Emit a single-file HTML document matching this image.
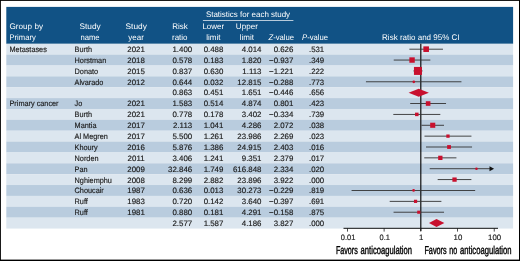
<!DOCTYPE html>
<html><head><meta charset="utf-8"><title>Forest plot</title>
<style>
html,body{margin:0;padding:0;background:#fff;}
svg{display:block;}
text{font-family:"Liberation Sans",sans-serif;text-rendering:geometricPrecision;}
.b{font-size:7.8px;fill:#1a1a1a;stroke:#1a1a1a;stroke-width:0.15px;}
.h{font-size:8.1px;fill:#fff;}
.a{font-size:7.8px;fill:#1a1a1a;stroke:#1a1a1a;stroke-width:0.15px;}
.f{font-size:11.5px;fill:#000;stroke:#000;stroke-width:0.4px;}
</style></head><body>
<svg width="520" height="261" viewBox="0 0 520 261">
<rect x="0" y="0" width="520" height="261" fill="#fff"/>
<rect x="0" y="0" width="520" height="0.9" fill="#000"/>
<rect x="0" y="0" width="0.9" height="261" fill="#000"/>
<rect x="519" y="0" width="1" height="261" fill="#000"/>
<rect x="0" y="259.6" width="520" height="1.4" fill="#000"/>
<rect x="6.3" y="6.9" width="506.8" height="36.95" fill="#115285"/>

<rect x="6.3" y="43.75" width="506.8" height="10.92" fill="#dce6ef"/>
<rect x="6.3" y="54.62" width="506.8" height="10.92" fill="#b9ccde"/>
<rect x="6.3" y="65.49" width="506.8" height="10.92" fill="#dce6ef"/>
<rect x="6.3" y="76.35" width="506.8" height="10.92" fill="#b9ccde"/>
<rect x="6.3" y="87.22" width="506.8" height="10.92" fill="#dce6ef"/>
<rect x="6.3" y="98.09" width="506.8" height="10.92" fill="#b9ccde"/>
<rect x="6.3" y="108.96" width="506.8" height="10.92" fill="#dce6ef"/>
<rect x="6.3" y="119.83" width="506.8" height="10.92" fill="#b9ccde"/>
<rect x="6.3" y="130.69" width="506.8" height="10.92" fill="#dce6ef"/>
<rect x="6.3" y="141.56" width="506.8" height="10.92" fill="#b9ccde"/>
<rect x="6.3" y="152.43" width="506.8" height="10.92" fill="#dce6ef"/>
<rect x="6.3" y="163.30" width="506.8" height="10.92" fill="#b9ccde"/>
<rect x="6.3" y="174.17" width="506.8" height="10.92" fill="#dce6ef"/>
<rect x="6.3" y="185.03" width="506.8" height="10.92" fill="#b9ccde"/>
<rect x="6.3" y="195.90" width="506.8" height="10.92" fill="#dce6ef"/>
<rect x="6.3" y="206.77" width="506.8" height="10.92" fill="#b9ccde"/>
<rect x="6.3" y="217.64" width="506.8" height="10.92" fill="#dce6ef"/>
<text class="h" x="9.5" y="29.4" text-anchor="start" textLength="33.48" lengthAdjust="spacingAndGlyphs">Group by</text>
<text class="h" x="9.5" y="39.7" text-anchor="start" textLength="26.23" lengthAdjust="spacingAndGlyphs">Primary</text>
<text class="h" x="90.1" y="29.4" text-anchor="middle" textLength="21.23" lengthAdjust="spacingAndGlyphs">Study</text>
<text class="h" x="90" y="39.7" text-anchor="middle" textLength="19.25" lengthAdjust="spacingAndGlyphs">name</text>
<text class="h" x="136.2" y="29.4" text-anchor="middle" textLength="21.23" lengthAdjust="spacingAndGlyphs">Study</text>
<text class="h" x="136.1" y="39.7" text-anchor="middle" textLength="15.52" lengthAdjust="spacingAndGlyphs">year</text>
<text class="h" x="180" y="29.4" text-anchor="middle" textLength="15.51" lengthAdjust="spacingAndGlyphs">Risk</text>
<text class="h" x="179.8" y="39.7" text-anchor="middle" textLength="15.52" lengthAdjust="spacingAndGlyphs">ratio</text>
<text class="h" x="213.3" y="29.4" text-anchor="middle" textLength="21.73" lengthAdjust="spacingAndGlyphs">Lower</text>
<text class="h" x="213.3" y="39.7" text-anchor="middle" textLength="14.18" lengthAdjust="spacingAndGlyphs">limit</text>
<text class="h" x="246.9" y="29.4" text-anchor="middle" textLength="22.06" lengthAdjust="spacingAndGlyphs">Upper</text>
<text class="h" x="246.9" y="39.7" text-anchor="middle" textLength="14.18" lengthAdjust="spacingAndGlyphs">limit</text>
<text class="h" x="248" y="16.6" text-anchor="middle" textLength="84.25" lengthAdjust="spacingAndGlyphs">Statistics for each study</text>
<rect x="202.9" y="20.0" width="90.5" height="0.7" fill="#fff"/>
<text class="h" x="281.3" y="39.7" text-anchor="middle" textLength="25.66" lengthAdjust="spacingAndGlyphs"><tspan font-style="italic">Z</tspan>-value</text>
<text class="h" x="315.1" y="39.7" text-anchor="middle" textLength="26.09" lengthAdjust="spacingAndGlyphs"><tspan font-style="italic">P</tspan>-value</text>
<text class="h" x="420.85" y="39.6" text-anchor="middle" textLength="77.55" lengthAdjust="spacingAndGlyphs">Risk ratio and 95% CI</text>
<text class="b" x="9.5" y="51.93" text-anchor="start" textLength="37.29" lengthAdjust="spacingAndGlyphs">Metastases</text>
<text class="b" x="74.6" y="51.93" text-anchor="start" textLength="17.43" lengthAdjust="spacingAndGlyphs">Burth</text>
<text class="b" x="136.1" y="51.93" text-anchor="middle" textLength="17.56" lengthAdjust="spacingAndGlyphs">2021</text>
<text class="b" x="192.2" y="51.93" text-anchor="end" textLength="19.75" lengthAdjust="spacingAndGlyphs">1.400</text>
<text class="b" x="223.4" y="51.93" text-anchor="end" textLength="19.75" lengthAdjust="spacingAndGlyphs">0.488</text>
<text class="b" x="261.5" y="51.93" text-anchor="end" textLength="19.75" lengthAdjust="spacingAndGlyphs">4.014</text>
<text class="b" x="293.4" y="51.93" text-anchor="end" textLength="19.75" lengthAdjust="spacingAndGlyphs">0.626</text>
<text class="b" x="309.0" y="51.93" text-anchor="start">.531</text>
<text class="b" x="74.6" y="62.82" text-anchor="start" textLength="31.61" lengthAdjust="spacingAndGlyphs">Horstman</text>
<text class="b" x="136.1" y="62.82" text-anchor="middle" textLength="17.56" lengthAdjust="spacingAndGlyphs">2018</text>
<text class="b" x="192.2" y="62.82" text-anchor="end" textLength="19.75" lengthAdjust="spacingAndGlyphs">0.578</text>
<text class="b" x="223.4" y="62.82" text-anchor="end" textLength="19.75" lengthAdjust="spacingAndGlyphs">0.183</text>
<text class="b" x="261.5" y="62.82" text-anchor="end" textLength="19.75" lengthAdjust="spacingAndGlyphs">1.820</text>
<text class="b" x="293.4" y="62.82" text-anchor="end" textLength="24.36" lengthAdjust="spacingAndGlyphs">−0.937</text>
<text class="b" x="309.0" y="62.82" text-anchor="start">.349</text>
<text class="b" x="74.6" y="73.71" text-anchor="start" textLength="23.52" lengthAdjust="spacingAndGlyphs">Donato</text>
<text class="b" x="136.1" y="73.71" text-anchor="middle" textLength="17.56" lengthAdjust="spacingAndGlyphs">2015</text>
<text class="b" x="192.2" y="73.71" text-anchor="end" textLength="19.75" lengthAdjust="spacingAndGlyphs">0.837</text>
<text class="b" x="223.4" y="73.71" text-anchor="end" textLength="19.75" lengthAdjust="spacingAndGlyphs">0.630</text>
<text class="b" x="261.5" y="73.71" text-anchor="end" textLength="19.17" lengthAdjust="spacingAndGlyphs">1.113</text>
<text class="b" x="293.4" y="73.71" text-anchor="end" textLength="24.36" lengthAdjust="spacingAndGlyphs">−1.221</text>
<text class="b" x="309.0" y="73.71" text-anchor="start">.222</text>
<text class="b" x="74.6" y="84.60" text-anchor="start" textLength="28.78" lengthAdjust="spacingAndGlyphs">Alvarado</text>
<text class="b" x="136.1" y="84.60" text-anchor="middle" textLength="17.56" lengthAdjust="spacingAndGlyphs">2012</text>
<text class="b" x="192.2" y="84.60" text-anchor="end" textLength="19.75" lengthAdjust="spacingAndGlyphs">0.644</text>
<text class="b" x="223.4" y="84.60" text-anchor="end" textLength="19.75" lengthAdjust="spacingAndGlyphs">0.032</text>
<text class="b" x="261.5" y="84.60" text-anchor="end" textLength="24.14" lengthAdjust="spacingAndGlyphs">12.815</text>
<text class="b" x="293.4" y="84.60" text-anchor="end" textLength="24.36" lengthAdjust="spacingAndGlyphs">−0.288</text>
<text class="b" x="309.0" y="84.60" text-anchor="start">.773</text>
<text class="b" x="192.2" y="95.49" text-anchor="end" textLength="19.75" lengthAdjust="spacingAndGlyphs">0.863</text>
<text class="b" x="223.4" y="95.49" text-anchor="end" textLength="19.75" lengthAdjust="spacingAndGlyphs">0.451</text>
<text class="b" x="261.5" y="95.49" text-anchor="end" textLength="19.75" lengthAdjust="spacingAndGlyphs">1.651</text>
<text class="b" x="293.4" y="95.49" text-anchor="end" textLength="24.36" lengthAdjust="spacingAndGlyphs">−0.446</text>
<text class="b" x="309.0" y="95.49" text-anchor="start">.656</text>
<text class="b" x="9.5" y="106.37" text-anchor="start" textLength="49.04" lengthAdjust="spacingAndGlyphs">Primary cancer</text>
<text class="b" x="74.6" y="106.37" text-anchor="start" textLength="7.70" lengthAdjust="spacingAndGlyphs">Jo</text>
<text class="b" x="136.1" y="106.37" text-anchor="middle" textLength="17.56" lengthAdjust="spacingAndGlyphs">2021</text>
<text class="b" x="192.2" y="106.37" text-anchor="end" textLength="19.75" lengthAdjust="spacingAndGlyphs">1.583</text>
<text class="b" x="223.4" y="106.37" text-anchor="end" textLength="19.75" lengthAdjust="spacingAndGlyphs">0.514</text>
<text class="b" x="261.5" y="106.37" text-anchor="end" textLength="19.75" lengthAdjust="spacingAndGlyphs">4.874</text>
<text class="b" x="293.4" y="106.37" text-anchor="end" textLength="19.75" lengthAdjust="spacingAndGlyphs">0.801</text>
<text class="b" x="309.0" y="106.37" text-anchor="start">.423</text>
<text class="b" x="74.6" y="117.26" text-anchor="start" textLength="17.43" lengthAdjust="spacingAndGlyphs">Burth</text>
<text class="b" x="136.1" y="117.26" text-anchor="middle" textLength="17.56" lengthAdjust="spacingAndGlyphs">2021</text>
<text class="b" x="192.2" y="117.26" text-anchor="end" textLength="19.75" lengthAdjust="spacingAndGlyphs">0.778</text>
<text class="b" x="223.4" y="117.26" text-anchor="end" textLength="19.75" lengthAdjust="spacingAndGlyphs">0.178</text>
<text class="b" x="261.5" y="117.26" text-anchor="end" textLength="19.75" lengthAdjust="spacingAndGlyphs">3.402</text>
<text class="b" x="293.4" y="117.26" text-anchor="end" textLength="24.36" lengthAdjust="spacingAndGlyphs">−0.334</text>
<text class="b" x="309.0" y="117.26" text-anchor="start">.739</text>
<text class="b" x="74.6" y="128.15" text-anchor="start" textLength="21.89" lengthAdjust="spacingAndGlyphs">Mantia</text>
<text class="b" x="136.1" y="128.15" text-anchor="middle" textLength="17.56" lengthAdjust="spacingAndGlyphs">2017</text>
<text class="b" x="192.2" y="128.15" text-anchor="end" textLength="19.17" lengthAdjust="spacingAndGlyphs">2.113</text>
<text class="b" x="223.4" y="128.15" text-anchor="end" textLength="19.75" lengthAdjust="spacingAndGlyphs">1.041</text>
<text class="b" x="261.5" y="128.15" text-anchor="end" textLength="19.75" lengthAdjust="spacingAndGlyphs">4.286</text>
<text class="b" x="293.4" y="128.15" text-anchor="end" textLength="19.75" lengthAdjust="spacingAndGlyphs">2.072</text>
<text class="b" x="309.0" y="128.15" text-anchor="start">.038</text>
<text class="b" x="74.6" y="139.04" text-anchor="start" textLength="33.24" lengthAdjust="spacingAndGlyphs">Al Megren</text>
<text class="b" x="136.1" y="139.04" text-anchor="middle" textLength="17.56" lengthAdjust="spacingAndGlyphs">2017</text>
<text class="b" x="192.2" y="139.04" text-anchor="end" textLength="19.75" lengthAdjust="spacingAndGlyphs">5.500</text>
<text class="b" x="223.4" y="139.04" text-anchor="end" textLength="19.75" lengthAdjust="spacingAndGlyphs">1.261</text>
<text class="b" x="261.5" y="139.04" text-anchor="end" textLength="24.14" lengthAdjust="spacingAndGlyphs">23.986</text>
<text class="b" x="293.4" y="139.04" text-anchor="end" textLength="19.75" lengthAdjust="spacingAndGlyphs">2.269</text>
<text class="b" x="309.0" y="139.04" text-anchor="start">.023</text>
<text class="b" x="74.6" y="149.93" text-anchor="start" textLength="23.11" lengthAdjust="spacingAndGlyphs">Khoury</text>
<text class="b" x="136.1" y="149.93" text-anchor="middle" textLength="17.56" lengthAdjust="spacingAndGlyphs">2016</text>
<text class="b" x="192.2" y="149.93" text-anchor="end" textLength="19.75" lengthAdjust="spacingAndGlyphs">5.876</text>
<text class="b" x="223.4" y="149.93" text-anchor="end" textLength="19.75" lengthAdjust="spacingAndGlyphs">1.386</text>
<text class="b" x="261.5" y="149.93" text-anchor="end" textLength="24.14" lengthAdjust="spacingAndGlyphs">24.915</text>
<text class="b" x="293.4" y="149.93" text-anchor="end" textLength="19.75" lengthAdjust="spacingAndGlyphs">2.403</text>
<text class="b" x="309.0" y="149.93" text-anchor="start">.016</text>
<text class="b" x="74.6" y="160.81" text-anchor="start" textLength="23.92" lengthAdjust="spacingAndGlyphs">Norden</text>
<text class="b" x="136.1" y="160.81" text-anchor="middle" textLength="16.97" lengthAdjust="spacingAndGlyphs">2011</text>
<text class="b" x="192.2" y="160.81" text-anchor="end" textLength="19.75" lengthAdjust="spacingAndGlyphs">3.406</text>
<text class="b" x="223.4" y="160.81" text-anchor="end" textLength="19.75" lengthAdjust="spacingAndGlyphs">1.241</text>
<text class="b" x="261.5" y="160.81" text-anchor="end" textLength="19.75" lengthAdjust="spacingAndGlyphs">9.351</text>
<text class="b" x="293.4" y="160.81" text-anchor="end" textLength="19.75" lengthAdjust="spacingAndGlyphs">2.379</text>
<text class="b" x="309.0" y="160.81" text-anchor="start">.017</text>
<text class="b" x="74.6" y="171.70" text-anchor="start" textLength="12.98" lengthAdjust="spacingAndGlyphs">Pan</text>
<text class="b" x="136.1" y="171.70" text-anchor="middle" textLength="17.56" lengthAdjust="spacingAndGlyphs">2009</text>
<text class="b" x="192.2" y="171.70" text-anchor="end" textLength="24.14" lengthAdjust="spacingAndGlyphs">32.846</text>
<text class="b" x="223.4" y="171.70" text-anchor="end" textLength="19.75" lengthAdjust="spacingAndGlyphs">1.749</text>
<text class="b" x="261.5" y="171.70" text-anchor="end" textLength="28.53" lengthAdjust="spacingAndGlyphs">616.848</text>
<text class="b" x="293.4" y="171.70" text-anchor="end" textLength="19.75" lengthAdjust="spacingAndGlyphs">2.334</text>
<text class="b" x="309.0" y="171.70" text-anchor="start">.020</text>
<text class="b" x="74.6" y="182.59" text-anchor="start" textLength="37.30" lengthAdjust="spacingAndGlyphs">Nghiemphu</text>
<text class="b" x="136.1" y="182.59" text-anchor="middle" textLength="17.56" lengthAdjust="spacingAndGlyphs">2008</text>
<text class="b" x="192.2" y="182.59" text-anchor="end" textLength="19.75" lengthAdjust="spacingAndGlyphs">8.299</text>
<text class="b" x="223.4" y="182.59" text-anchor="end" textLength="19.75" lengthAdjust="spacingAndGlyphs">2.882</text>
<text class="b" x="261.5" y="182.59" text-anchor="end" textLength="24.14" lengthAdjust="spacingAndGlyphs">23.896</text>
<text class="b" x="293.4" y="182.59" text-anchor="end" textLength="19.75" lengthAdjust="spacingAndGlyphs">3.922</text>
<text class="b" x="309.0" y="182.59" text-anchor="start">.000</text>
<text class="b" x="74.6" y="193.48" text-anchor="start" textLength="29.19" lengthAdjust="spacingAndGlyphs">Choucair</text>
<text class="b" x="136.1" y="193.48" text-anchor="middle" textLength="17.56" lengthAdjust="spacingAndGlyphs">1987</text>
<text class="b" x="192.2" y="193.48" text-anchor="end" textLength="19.75" lengthAdjust="spacingAndGlyphs">0.636</text>
<text class="b" x="223.4" y="193.48" text-anchor="end" textLength="19.75" lengthAdjust="spacingAndGlyphs">0.013</text>
<text class="b" x="261.5" y="193.48" text-anchor="end" textLength="24.14" lengthAdjust="spacingAndGlyphs">30.273</text>
<text class="b" x="293.4" y="193.48" text-anchor="end" textLength="24.36" lengthAdjust="spacingAndGlyphs">−0.229</text>
<text class="b" x="309.0" y="193.48" text-anchor="start">.819</text>
<text class="b" x="74.6" y="204.37" text-anchor="start" textLength="13.24" lengthAdjust="spacingAndGlyphs">Ruff</text>
<text class="b" x="136.1" y="204.37" text-anchor="middle" textLength="17.56" lengthAdjust="spacingAndGlyphs">1983</text>
<text class="b" x="192.2" y="204.37" text-anchor="end" textLength="19.75" lengthAdjust="spacingAndGlyphs">0.720</text>
<text class="b" x="223.4" y="204.37" text-anchor="end" textLength="19.75" lengthAdjust="spacingAndGlyphs">0.142</text>
<text class="b" x="261.5" y="204.37" text-anchor="end" textLength="19.75" lengthAdjust="spacingAndGlyphs">3.640</text>
<text class="b" x="293.4" y="204.37" text-anchor="end" textLength="24.36" lengthAdjust="spacingAndGlyphs">−0.397</text>
<text class="b" x="309.0" y="204.37" text-anchor="start">.691</text>
<text class="b" x="74.6" y="215.25" text-anchor="start" textLength="13.24" lengthAdjust="spacingAndGlyphs">Ruff</text>
<text class="b" x="136.1" y="215.25" text-anchor="middle" textLength="17.56" lengthAdjust="spacingAndGlyphs">1981</text>
<text class="b" x="192.2" y="215.25" text-anchor="end" textLength="19.75" lengthAdjust="spacingAndGlyphs">0.880</text>
<text class="b" x="223.4" y="215.25" text-anchor="end" textLength="19.75" lengthAdjust="spacingAndGlyphs">0.181</text>
<text class="b" x="261.5" y="215.25" text-anchor="end" textLength="19.75" lengthAdjust="spacingAndGlyphs">4.291</text>
<text class="b" x="293.4" y="215.25" text-anchor="end" textLength="24.36" lengthAdjust="spacingAndGlyphs">−0.158</text>
<text class="b" x="309.0" y="215.25" text-anchor="start">.875</text>
<text class="b" x="192.2" y="226.14" text-anchor="end" textLength="19.75" lengthAdjust="spacingAndGlyphs">2.577</text>
<text class="b" x="223.4" y="226.14" text-anchor="end" textLength="19.75" lengthAdjust="spacingAndGlyphs">1.587</text>
<text class="b" x="261.5" y="226.14" text-anchor="end" textLength="19.75" lengthAdjust="spacingAndGlyphs">4.186</text>
<text class="b" x="293.4" y="226.14" text-anchor="end" textLength="19.75" lengthAdjust="spacingAndGlyphs">3.827</text>
<text class="b" x="309.0" y="226.14" text-anchor="start">.000</text>
<rect x="420.20" y="43.75" width="1.2" height="187.25" fill="#111"/>
<rect x="409.37" y="48.73" width="33.59" height="0.9" fill="#333"/>
<rect x="423.36" y="46.38" width="5.6" height="5.6" fill="#c8102e"/>
<rect x="393.73" y="59.60" width="36.61" height="0.9" fill="#333"/>
<rect x="409.36" y="57.35" width="5.4" height="5.4" fill="#c8102e"/>
<rect x="413.44" y="70.47" width="9.07" height="0.9" fill="#333"/>
<rect x="413.96" y="66.92" width="8.0" height="8.0" fill="#c8102e"/>
<rect x="365.94" y="81.34" width="95.51" height="0.9" fill="#333"/>
<circle cx="413.79" cy="81.79" r="1.35" fill="#c8102e"/>
<polygon points="408.60,92.66 418.70,88.66 428.90,92.66 418.70,96.66" fill="#c8102e"/>
<rect x="410.19" y="103.07" width="35.85" height="0.9" fill="#333"/>
<rect x="425.82" y="101.22" width="4.6" height="4.6" fill="#c8102e"/>
<rect x="393.29" y="113.94" width="47.02" height="0.9" fill="#333"/>
<rect x="415.05" y="112.64" width="3.5" height="3.5" fill="#c8102e"/>
<rect x="421.44" y="124.81" width="22.56" height="0.9" fill="#333"/>
<rect x="430.17" y="122.71" width="5.1" height="5.1" fill="#c8102e"/>
<rect x="424.50" y="135.68" width="46.95" height="0.9" fill="#333"/>
<rect x="446.32" y="134.48" width="3.3" height="3.3" fill="#c8102e"/>
<rect x="426.00" y="146.55" width="46.05" height="0.9" fill="#333"/>
<rect x="447.13" y="145.10" width="3.8" height="3.8" fill="#c8102e"/>
<rect x="424.24" y="157.41" width="32.19" height="0.9" fill="#333"/>
<rect x="438.18" y="155.71" width="4.3" height="4.3" fill="#c8102e"/>
<rect x="429.71" y="168.28" width="60.79" height="0.9" fill="#333"/>
<polygon points="489.5,166.23 494.1,168.73 489.5,171.23" fill="#111"/>
<circle cx="476.45" cy="168.73" r="1.30" fill="#c8102e"/>
<rect x="437.67" y="179.15" width="33.71" height="0.9" fill="#333"/>
<rect x="452.38" y="177.45" width="4.3" height="4.3" fill="#c8102e"/>
<rect x="351.58" y="190.02" width="123.57" height="0.9" fill="#333"/>
<circle cx="413.59" cy="190.47" r="1.40" fill="#c8102e"/>
<rect x="389.69" y="200.89" width="51.70" height="0.9" fill="#333"/>
<rect x="413.96" y="199.74" width="3.2" height="3.2" fill="#c8102e"/>
<rect x="393.56" y="211.75" width="50.46" height="0.9" fill="#333"/>
<rect x="417.21" y="210.65" width="3.1" height="3.1" fill="#c8102e"/>
<polygon points="429.00,223.07 436.50,219.07 444.30,223.07 436.50,227.07" fill="#c8102e"/>
<rect x="343.5" y="227.8" width="154.5" height="1" fill="#111"/>
<rect x="347.00" y="228" width="0.8" height="3.6" fill="#222"/>
<text class="a" x="348.05" y="239.7" text-anchor="middle" textLength="14.57" lengthAdjust="spacingAndGlyphs">0.01</text>
<rect x="383.70" y="228" width="0.8" height="3.6" fill="#222"/>
<text class="a" x="384.75" y="239.7" text-anchor="middle" textLength="10.41" lengthAdjust="spacingAndGlyphs">0.1</text>
<rect x="420.40" y="228" width="0.8" height="3.6" fill="#222"/>
<text class="a" x="421.20" y="239.7" text-anchor="middle">1</text>
<rect x="457.10" y="228" width="0.8" height="3.6" fill="#222"/>
<text class="a" x="457.90" y="239.7" text-anchor="middle">10</text>
<rect x="493.80" y="228" width="0.8" height="3.6" fill="#222"/>
<text class="a" x="494.60" y="239.7" text-anchor="middle">100</text>
<text class="f" x="335.9" y="253.6" textLength="21.9" lengthAdjust="spacingAndGlyphs">Favors</text>
<text class="f" x="360.6" y="253.6" textLength="51.4" lengthAdjust="spacingAndGlyphs">anticoagulation</text>
<text class="f" x="424.4" y="253.6" textLength="22.3" lengthAdjust="spacingAndGlyphs">Favors</text>
<text class="f" x="449.3" y="253.6" textLength="7.9" lengthAdjust="spacingAndGlyphs">no</text>
<text class="f" x="460.0" y="253.6" textLength="51.6" lengthAdjust="spacingAndGlyphs">anticoagulation</text>
</svg></body></html>
